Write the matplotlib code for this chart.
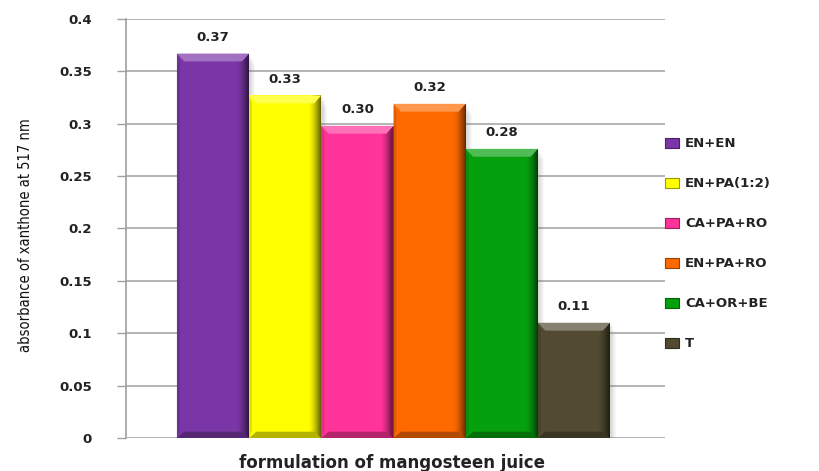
import matplotlib
matplotlib.use("Agg")
import matplotlib.pyplot as plt
from matplotlib.patches import Polygon, Rectangle
from matplotlib.colors import to_rgb
import numpy as np

# absorbance readings for each juice formulation
formulations = ['EN+EN', 'EN+PA(1:2)', 'CA+PA+RO', 'EN+PA+RO', 'CA+OR+BE', 'T']
absorbance = [0.367, 0.327, 0.298, 0.319, 0.276, 0.110]
bar_colors = ['#7A36A6', '#FFFF00', '#FF3399', '#FF6A00', '#05A00E', '#524B32']
y_ticks = [0, 0.05, 0.1, 0.15, 0.2, 0.25, 0.3, 0.35, 0.4]


def mix(c, other, t):
    c = np.array(to_rgb(c))
    return tuple(c * (1 - t) + np.array(other) * t)


def bevel_bar(ax, x, h, color, w=1.0):
    left, right = x - w / 2, x + w / 2
    bx, by = 0.1, 0.0075
    # soft drop shadow to the right
    for k in range(6):
        ax.add_patch(Rectangle((left + 0.02 + k * 0.012, 0), w, h - 0.002 * k,
                               facecolor='#777777', alpha=0.05, lw=0, zorder=2))
    ax.add_patch(Rectangle((left, 0), w, h, facecolor=color, lw=0, zorder=3))
    # darker gradient along the right edge
    n = 12
    gw = 0.17
    for i in range(n):
        t = (i + 1) / n
        ax.add_patch(Rectangle((right - gw + gw * i / n, 0), gw / n, h,
                               facecolor=mix(color, (0, 0, 0), 0.6 * t ** 1.5),
                               lw=0, zorder=4))
    # slight shading on the left edge
    ax.add_patch(Polygon([(left, 0), (left, h), (left + 0.04, h - by), (left + 0.04, by)],
                         facecolor=mix(color, (0, 0, 0), 0.12), lw=0, zorder=4))
    # top and bottom bevels
    ax.add_patch(Polygon([(left, h), (right, h), (right - bx, h - by), (left + bx, h - by)],
                         facecolor=mix(color, (1, 1, 1), 0.3), lw=0, zorder=5))
    ax.add_patch(Polygon([(left, 0), (right, 0), (right - bx, by * 0.8), (left + bx, by * 0.8)],
                         facecolor=mix(color, (0, 0, 0), 0.3), lw=0, zorder=5))


fig = plt.figure(figsize=(8.2, 4.71), dpi=100)
ax = fig.add_axes([0.1537, 0.0701, 0.6573, 0.8896])

xs = np.arange(len(absorbance))
for x, v, c in zip(xs, absorbance, bar_colors):
    bevel_bar(ax, x, v, c)
    ax.annotate(f"{v:.2f}", (x, v), xytext=(0, 16), textcoords='offset pixels',
                ha='center', va='center', fontsize=9.5, fontweight='bold', color='#222222')

ax.set_xlim(-1.205, 6.26)
ax.set_ylim(0, 0.4)
ax.set_yticks(y_ticks)
ax.set_yticklabels([f"{t:g}" for t in y_ticks], fontsize=9.5, fontweight='bold', color='#222222')
ax.set_xticks([])
ax.tick_params(axis='y', length=6.5, width=1, color='#A0A0A0', pad=18)
ax.yaxis.grid(True, color='#A8A8A8', lw=1.2)
ax.set_axisbelow(True)
for s in ['top', 'right', 'bottom']:
    ax.spines[s].set_visible(False)
ax.spines['left'].set_color('#A0A0A0')
ax.spines['left'].set_linewidth(1.2)

ax.set_ylabel('absorbance of xanthone at 517 nm', fontsize=10.5, fontstretch='condensed',
              family='DejaVu Sans', color='#111111')
ax.yaxis.set_label_coords(-0.172, 0.484)
fig.text(392 / 820, 1 - 463 / 471, 'formulation of mangosteen juice',
         ha='center', va='center', fontsize=12, fontweight='bold', color='#222222')

handles = [Rectangle((0, 0), 1, 1, facecolor=c, edgecolor=mix(c, (0, 0, 0), 0.4), lw=0.8)
           for c in bar_colors]
leg = fig.legend(handles, formulations, loc='upper left', bbox_to_anchor=(0.805, 0.72),
                 frameon=False, fontsize=9.5, handlelength=1.0, handleheight=0.8,
                 handletextpad=0.5, labelspacing=2.05, borderaxespad=0)
for t in leg.get_texts():
    t.set_fontweight('bold')
    t.set_color('#222222')

fig.savefig('out.png', dpi=100)
